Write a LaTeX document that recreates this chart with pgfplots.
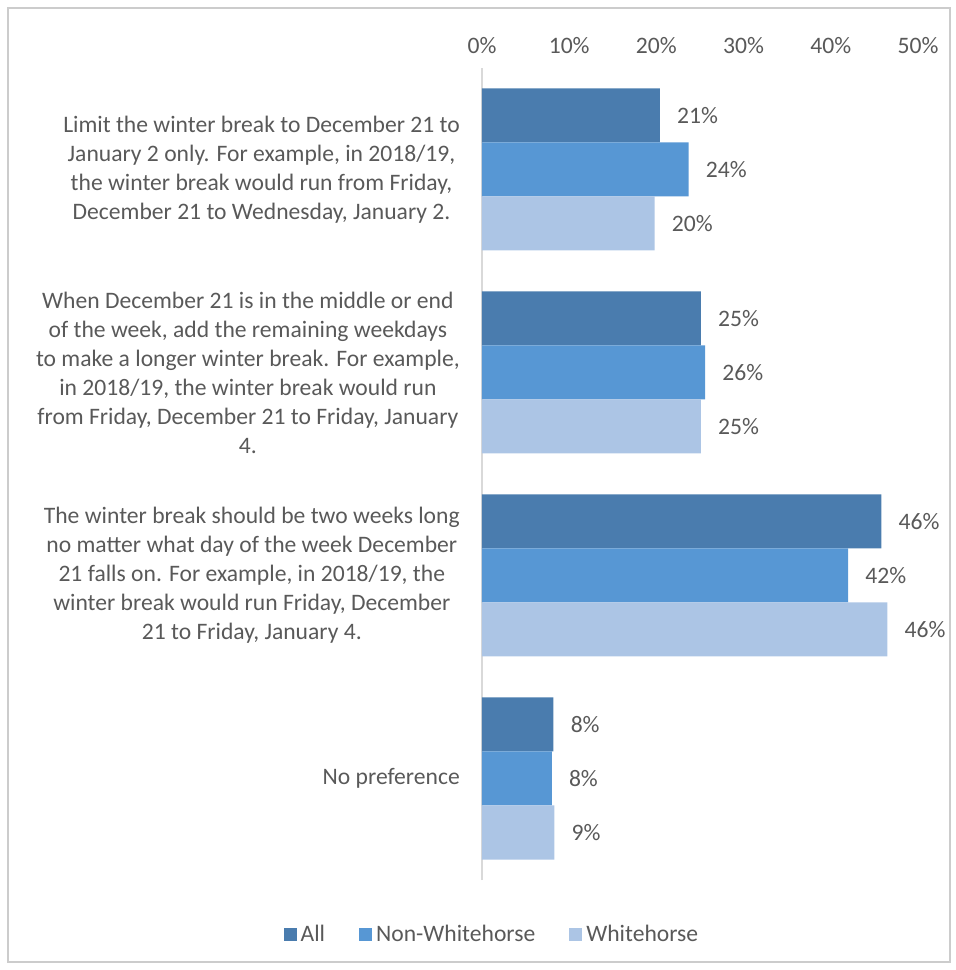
\documentclass[border=0pt]{standalone}
\usepackage{pgfplots}
\pgfplotsset{compat=1.18}
\usepackage{fontspec}
\setmainfont{Carlito}
\definecolor{cAll}{RGB}{74,124,174}
\definecolor{cNon}{RGB}{87,151,212}
\definecolor{cWh}{RGB}{172,197,229}
\definecolor{txt}{RGB}{89,89,89}
\begin{document}
\fontsize{11.8}{14.5}\selectfont
\begin{tikzpicture}
\begin{axis}[
    xbar,
    scale only axis,
    width=218pt, height=406pt,
    xmin=0, xmax=50,
    ymin=-0.5, ymax=3.5,
    bar width=27pt,
    axis y line*=left,
    axis x line*=top,
    x axis line style={draw=none},
    y axis line style={draw=black!15, line width=0.8pt},
    major tick length=0pt,
    xtick={0,10,20,30,40,50},
    xticklabel={\pgfmathprintnumber{\tick}\%},
    /pgf/number format/assume math mode=true,
    xticklabel style={text=txt, yshift=3pt},
    ytick={0,1,2,3},
    yticklabels={
        {No preference},
        {The winter break should be two weeks long\\no matter what day of the week December\\21 falls on. For example, in 2018/19, the\\winter break would run Friday, December\\21 to Friday, January 4.},
        {When December 21 is in the middle or end\\of the week, add the remaining weekdays\\to make a longer winter break. For example,\\in 2018/19, the winter break would run\\from Friday, December 21 to Friday, January\\4.},
        {Limit the winter break to December 21 to\\January 2 only. For example, in 2018/19,\\the winter break would run from Friday,\\December 21 to Wednesday, January 2.}
    },
    yticklabel style={align=center, text=txt, xshift=-7pt},
    point meta=explicit symbolic,
    nodes near coords,
    nodes near coords style={text=txt, anchor=west, xshift=4.5pt},
    legend columns=3,
    legend style={at={(0.025,-0.068)}, anchor=center, draw=none, fill=none,
        text=txt, /tikz/every even column/.append style={column sep=15pt}},
    legend image code/.code={\fill[#1] (0pt,-3pt) rectangle (6.5pt,3.5pt);},
    clip=false,
]
\addplot[fill=cAll, draw=none, bar shift=27pt] coordinates {
    (20.4,3) [21\%]
    (25.1,2) [25\%]
    (45.8,1) [46\%]
    (8.2,0) [8\%]
};
\addlegendentry{All}
\addplot[fill=cNon, draw=none, bar shift=0pt] coordinates {
    (23.7,3) [24\%]
    (25.6,2) [26\%]
    (42.0,1) [42\%]
    (8.0,0) [8\%]
};
\addlegendentry{Non-Whitehorse}
\addplot[fill=cWh, draw=none, bar shift=-27pt] coordinates {
    (19.8,3) [20\%]
    (25.1,2) [25\%]
    (46.5,1) [46\%]
    (8.3,0) [9\%]
};
\addlegendentry{Whitehorse}
\end{axis}
\draw[black!20, line width=0.8pt] ([xshift=-237pt,yshift=-41pt]current axis.south west)
    rectangle ([xshift=16pt,yshift=30pt]current axis.north east);
\path[use as bounding box] ([xshift=-241pt,yshift=-45pt]current axis.south west)
    rectangle ([xshift=19pt,yshift=34pt]current axis.north east);
\end{tikzpicture}
\end{document}
